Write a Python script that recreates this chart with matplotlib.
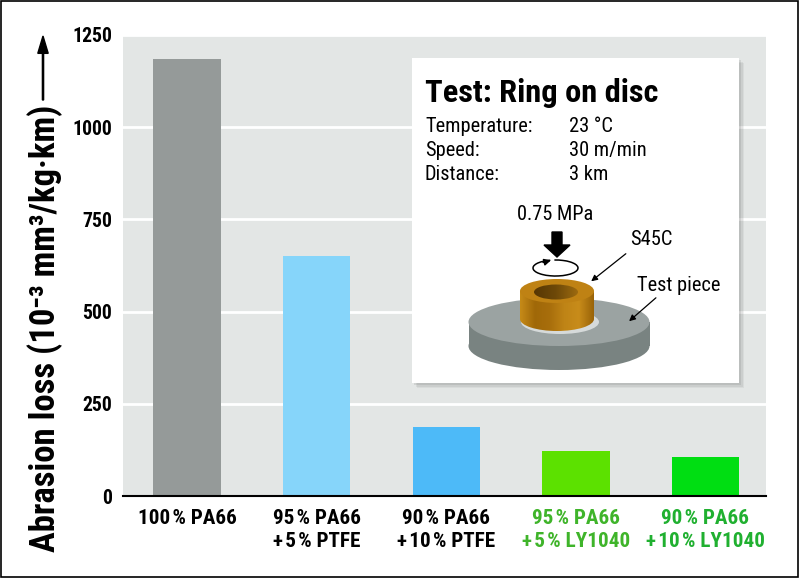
import numpy as np
import matplotlib
matplotlib.use('Agg')
import matplotlib.pyplot as plt
from matplotlib import font_manager
from matplotlib.patches import Rectangle, Ellipse, Arc, FancyArrow
from matplotlib.colors import LinearSegmentedColormap

names = {f.name for f in font_manager.fontManager.ttflist}
narrow = 'DejaVu Sans'
for cand in ['Roboto Condensed', 'Liberation Sans Narrow', 'Archivo Narrow', 'PT Sans Narrow',
             'Pragati Narrow', 'Barlow Semi Condensed', 'Asap Condensed', 'Barlow Condensed']:
    if cand in names:
        narrow = cand
        break
plt.rcParams['font.family'] = [narrow, 'DejaVu Sans']

T = '\u200a'
materials = ['100' + T + '% PA66',
             '95' + T + '% PA66\n+' + T + '5' + T + '% PTFE',
             '90' + T + '% PA66\n+' + T + '10' + T + '% PTFE',
             '95' + T + '% PA66\n+' + T + '5' + T + '% LY1040',
             '90' + T + '% PA66\n+' + T + '10' + T + '% LY1040']
abrasion = [1185, 652, 188, 121, 106]
bar_colors = ['#959a99', '#86d5fa', '#4dbaf8', '#5ce100', '#00de12']
label_colors = ['black', 'black', 'black', '#3fb42a', '#20b030']
yticks = [0, 250, 500, 750, 1000, 1250]

test_title = 'Test: Ring on disc'
cond_names = ['Temperature:', 'Speed:', 'Distance:']
cond_values = ['23 °C', '30 m/min', '3 km']

W, H = 800, 578
fig = plt.figure(figsize=(8, 5.78), dpi=100)
renderer = fig.canvas.get_renderer()


def fit(texts, target, dim='width'):
    # scale font size so that the first text spans target pixels
    bb = texts[0].get_window_extent(renderer)
    size = bb.width if dim == 'width' else bb.height
    k = target / size
    for t in texts:
        t.set_fontsize(t.get_fontsize() * k)


ax = fig.add_axes([123 / W, 82 / H, 643 / W, 461 / H])
ax.set_facecolor('#e3e6e5')
x = np.arange(len(materials))
ax.bar(x, abrasion, width=0.52, color=bar_colors, zorder=2)
ax.set_xlim(-0.494, 4.467)
ax.set_ylim(0, 1250)
ax.set_yticks(yticks)
ax.yaxis.grid(True, color='white', lw=2)
ax.set_axisbelow(True)
for s in ['top', 'right', 'left']:
    ax.spines[s].set_visible(False)
ax.spines['bottom'].set_linewidth(1.5)
ax.tick_params(axis='both', length=0)
ax.tick_params(axis='y', pad=8)
ax.tick_params(axis='x', pad=9)
ax.set_xticks(x)
ax.set_xticklabels(materials, fontsize=14.5, fontweight='bold', linespacing=1.3)
for lab, c in zip(ax.get_xticklabels(), label_colors):
    lab.set_color(c)
    lab.set_multialignment('center')
for lab in ax.get_yticklabels():
    lab.set_fontsize(13.5)
    lab.set_fontweight('bold')
fig.canvas.draw()
fit(ax.get_xticklabels(), 99)
fit(ax.get_yticklabels()[::-1], 40)

# y label with arrow
ylab = fig.text(45 / W, (H - 552) / H, 'Abrasion loss (10⁻³ mm³/kg·km)', rotation=90,
                ha='center', va='bottom', fontsize=27, fontweight='bold')
fit([ylab], 447, 'height')
fig.patches.append(FancyArrow(43 / W, (H - 100) / H, 0, 64 / H, width=0.0015,
                              head_width=0.013, head_length=0.03,
                              length_includes_head=True, color='black',
                              transform=fig.transFigure, figure=fig))

# frame around figure
fig.patches.append(Rectangle((0.001, 0.001), 0.997, 0.997, fill=False, lw=1.2,
                             edgecolor='black', transform=fig.transFigure, figure=fig))

# inset box with soft shadow
bx, by, bw, bh = 412, 58, 327, 325
for i, a in enumerate([0.08, 0.1, 0.14]):
    off = 5 - i * 1.5
    fig.patches.append(Rectangle(((bx + off) / W, (H - by - bh - off) / H), bw / W, bh / H,
                                 color='#606060', alpha=a, lw=0,
                                 transform=fig.transFigure, figure=fig, zorder=3))

ins = fig.add_axes([bx / W, (H - by - bh) / H, bw / W, bh / H])
ins.set_zorder(5)
ins.set_facecolor('white')
ins.set_xticks([])
ins.set_yticks([])
for s in ins.spines.values():
    s.set_visible(False)

title = ins.text(13, 44, test_title, fontsize=27, fontweight='bold', va='baseline', ha='left')
fit([title], 233)
body = []
for i, (n, v) in enumerate(zip(cond_names, cond_values)):
    body.append(ins.text(13, 74 + 24 * i, n, fontsize=13.5, va='baseline', ha='left'))
    body.append(ins.text(157, 74 + 24 * i, v, fontsize=13.5, va='baseline', ha='left'))

body.append(ins.text(143, 162, '0.75 MPa', fontsize=13.5, va='baseline', ha='center'))
ins.add_patch(FancyArrow(145, 174, 0, 25, width=10, head_width=26, head_length=12,
                         length_includes_head=True, color='black'))
ins.add_patch(Arc((143.5, 210), 45, 16, theta1=262, theta2=236, lw=1.1, color='black'))
ins.annotate('', xy=(139, 202.3), xytext=(131, 204.5),
             arrowprops=dict(arrowstyle='-|>', color='black', lw=1, mutation_scale=10,
                             shrinkA=0, shrinkB=0))

# disc
dcx, dcy, dw, dh, dt = 147, 264, 181, 48, 24
ins.add_patch(Ellipse((dcx, dcy + dt), dw, dh, color='#798381', lw=0))
ins.add_patch(Rectangle((dcx - dw / 2, dcy), dw, dt, color='#798381', lw=0))
ins.add_patch(Ellipse((dcx, dcy), dw, dh, color='#9ba3a2', lw=0))

# ring
rcx, rtop, rbot, rw, rh = 145, 233, 261, 74, 24
ins.add_patch(Ellipse((rcx + 3, rbot + 3), rw + 4, rh, color='#d6dada', lw=0))
ring_cmap = LinearSegmentedColormap.from_list(
    'ring', ['#c58a18', '#a06808', '#a86e0c', '#bf8416', '#c88c1a', '#9a6408'])
side = Rectangle((rcx - rw / 2, rtop), rw, rbot - rtop, transform=ins.transData)
bot = Ellipse((rcx, rbot), rw, rh, transform=ins.transData)
for clip in [side, bot]:
    im = ins.imshow(np.linspace(0, 1, 100)[None, :], cmap=ring_cmap, aspect='auto',
                    extent=[rcx - rw / 2, rcx + rw / 2, rbot + rh / 2, rtop], zorder=3)
    im.set_clip_path(clip)
ins.add_patch(Ellipse((rcx, rtop), rw, rh, color='#bf8214', lw=0, zorder=4))
hole_cmap = LinearSegmentedColormap.from_list('hole', ['#573704', '#6e4908', '#9c6a10'])
hole = Ellipse((144, 234), 44, 15, transform=ins.transData)
im = ins.imshow(np.linspace(0, 1, 100)[None, :], cmap=hole_cmap, aspect='auto',
                extent=[122, 166, 242, 226], zorder=5)
im.set_clip_path(hole)
ins.set_xlim(0, bw)
ins.set_ylim(bh, 0)

# callouts
body.append(ins.text(218, 187, 'S45C', fontsize=13.5, va='baseline', ha='left'))
ins.annotate('', xy=(177, 225), xytext=(216, 194),
             arrowprops=dict(arrowstyle='-|>', color='black', lw=0.9, mutation_scale=9))
body.append(ins.text(225, 233, 'Test piece', fontsize=13.5, va='baseline', ha='left'))
ins.annotate('', xy=(215, 265), xytext=(246, 238),
             arrowprops=dict(arrowstyle='-|>', color='black', lw=0.9, mutation_scale=9))
fit(body, 107)

fig.savefig('out.png', dpi=100)
